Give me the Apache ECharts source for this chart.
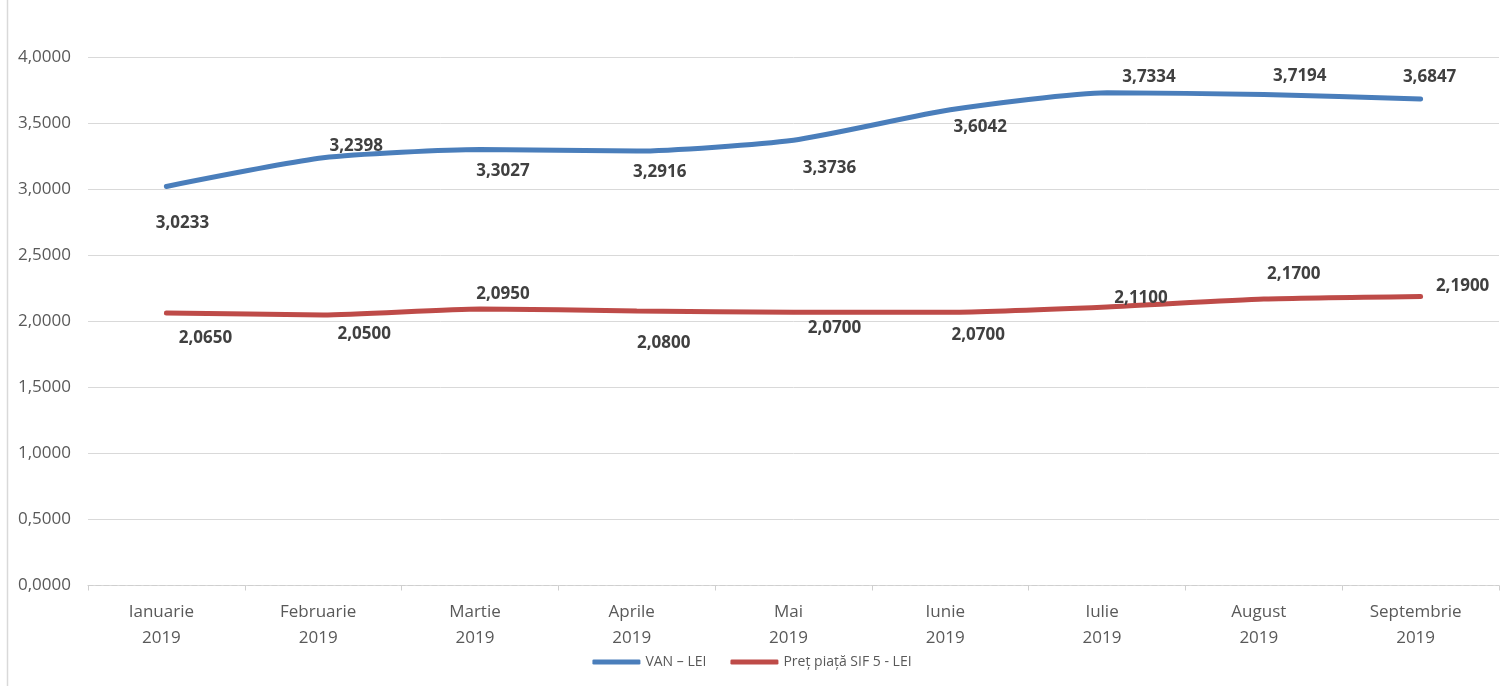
<!DOCTYPE html>
<html><head><meta charset="utf-8">
<script src="https://cdn.jsdelivr.net/npm/echarts@6/dist/echarts.min.js"></script>
<style>html,body{margin:0;padding:0;background:#fff}#c{width:1504px;height:686px}</style>
</head><body><div id="c"></div>
<script>
const categories = ['Ianuarie\n2019','Februarie\n2019','Martie\n2019','Aprile\n2019','Mai\n2019','Iunie\n2019','Iulie\n2019','August\n2019','Septembrie\n2019'];
const vanValues = [3.0233, 3.2398, 3.3027, 3.2916, 3.3736, 3.6042, 3.7334, 3.7194, 3.6847];
const pretValues = [2.0650, 2.0500, 2.0950, 2.0800, 2.0700, 2.0700, 2.1100, 2.1700, 2.1900];
const seriesNames = ['VAN – LEI', 'Preț piață SIF 5 - LEI'];
const yTicks = {min: 0, max: 4, interval: 0.5};

// label placement (pixel offsets from each point)
const vanLabelOffsets = [[16,37],[33,-12],[23,22],[23,21],[36,28],[30,17],[42,-16],[36,-18],[9,-22]];
const pretLabelOffsets = [[39,25],[41,19],[23,-15],[27,32],[41,16],[28,23],[34,-9],[30,-25],[42,-10]];

const fmt = v => v.toFixed(4).replace('.', ',');
const FONT = '"Open Sans", sans-serif';

function buildData(values, offsets) {
  return values.map((v, i) => ({
    value: v,
    label: {offset: offsets[i]}
  }));
}

const chart = echarts.init(document.getElementById('c'));
chart.setOption({
  animation: false,
  textStyle: {fontFamily: FONT},
  grid: {left: 88, right: 5, top: 57.5, bottom: 100.5, containLabel: false},
  graphic: [{
    type: 'line', shape: {x1: 7.5, y1: 0, x2: 7.5, y2: 686},
    style: {stroke: '#d9d9d9', lineWidth: 1.5}
  }],
  legend: {
    bottom: 12, left: 'center',
    icon: 'roundRect', itemWidth: 48, itemHeight: 5, itemGap: 24,
    textStyle: {fontFamily: FONT, fontSize: 14, color: '#595959'},
    data: seriesNames
  },
  xAxis: {
    type: 'category', data: categories, boundaryGap: true,
    axisLine: {lineStyle: {color: '#cfcfcf', type: [5, 3], width: 1.2}},
    axisTick: {show: true, length: 5, lineStyle: {color: '#cfcfcf'}},
    axisLabel: {fontFamily: FONT, fontSize: 17, color: '#595959', margin: 14, lineHeight: 26, padding: [0, 10, 0, 0]}
  },
  yAxis: {
    type: 'value', min: yTicks.min, max: yTicks.max, interval: yTicks.interval,
    axisLine: {show: false}, axisTick: {show: false},
    splitLine: {lineStyle: {color: '#d9d9d9', width: 1}},
    axisLabel: {fontFamily: FONT, fontSize: 17, color: '#595959', margin: 17, formatter: v => fmt(v)}
  },
  series: [
    {
      name: seriesNames[0], type: 'line', data: buildData(vanValues, vanLabelOffsets),
      smooth: 0.2, symbol: 'circle', symbolSize: 2,
      itemStyle: {color: '#4a7ebb'},
      lineStyle: {color: '#4a7ebb', width: 5, cap: 'round'},
      label: {show: true, position: 'inside', formatter: p => fmt(p.value),
        fontFamily: FONT, fontWeight: 'bold', fontSize: 17, color: '#404040'}
    },
    {
      name: seriesNames[1], type: 'line', data: buildData(pretValues, pretLabelOffsets),
      smooth: 0.2, symbol: 'circle', symbolSize: 2,
      itemStyle: {color: '#be4b48'},
      lineStyle: {color: '#be4b48', width: 5, cap: 'round'},
      label: {show: true, position: 'inside', formatter: p => fmt(p.value),
        fontFamily: FONT, fontWeight: 'bold', fontSize: 17, color: '#404040'}
    }
  ]
});
</script></body></html>
